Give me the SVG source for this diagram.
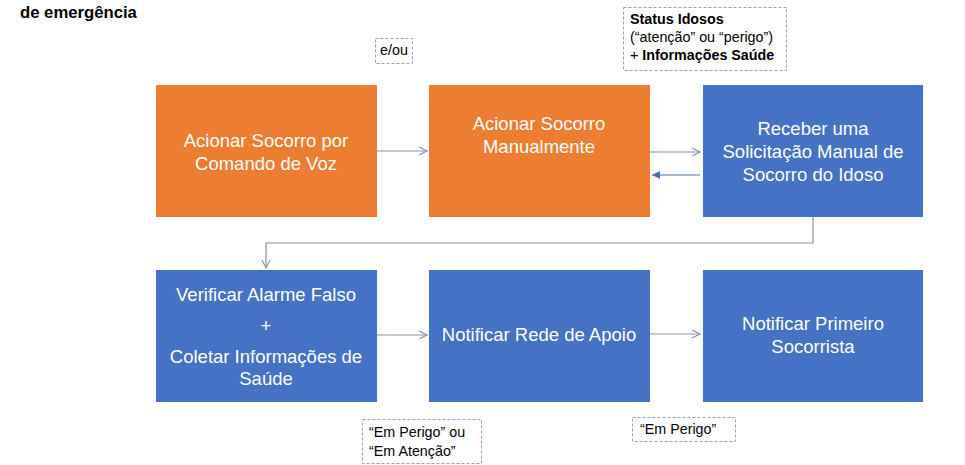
<svg xmlns="http://www.w3.org/2000/svg" width="965" height="465" viewBox="0 0 965 465">
<style>
.o{fill:#ED7D31}
.b{fill:#4472C4}
.t{font-family:"Liberation Sans",Arial,sans-serif;font-size:18.5px;fill:#fff;text-anchor:middle}
.c{fill:#fff;stroke:#8EA6BF;stroke-width:1;stroke-dasharray:3,2}
.ct{font-family:"Liberation Sans",Arial,sans-serif;font-size:14.3px;fill:#000}
.e{fill:none;stroke:#8497B0;stroke-width:1.2}
</style>
<defs>
<marker id="a" markerWidth="10" markerHeight="10" refX="9" refY="5" orient="auto" markerUnits="userSpaceOnUse">
<path d="M1,1 L9,5 L1,9" fill="none" stroke="#8497B0" stroke-width="1.2"/>
</marker>
<marker id="f" markerWidth="10" markerHeight="10" refX="9" refY="5" orient="auto" markerUnits="userSpaceOnUse">
<path d="M1,1 L9,5 L1,9 Z" fill="#4A6FB5"/>
</marker>
</defs>
<rect width="965" height="465" fill="#fff"/>
<text x="20" y="18" font-family="'Liberation Sans',Arial,sans-serif" font-size="16.7" font-weight="bold" fill="#000">de emergência</text>

<g id="n1"><rect class="o" x="156" y="85" width="221" height="132"/>
<text class="t" x="266" y="147">Acionar Socorro por</text><text class="t" x="266" y="170">Comando de Voz</text></g>
<g id="n2"><rect class="o" x="429" y="85" width="221" height="132"/>
<text class="t" x="539" y="130">Acionar Socorro</text><text class="t" x="539" y="153">Manualmente</text></g>
<g id="n3"><rect class="b" x="703" y="85" width="220" height="132"/>
<text class="t" x="813" y="135">Receber uma</text><text class="t" x="813" y="158">Solicitação Manual de</text><text class="t" x="813" y="181">Socorro do Idoso</text></g>
<g id="n4"><rect class="b" x="156" y="270" width="221" height="132"/>
<text class="t" x="266" y="301">Verificar Alarme Falso</text><text class="t" x="266" y="332">+</text><text class="t" x="266" y="363">Coletar Informações de</text><text class="t" x="266" y="385">Saúde</text></g>
<g id="n5"><rect class="b" x="429" y="270" width="221" height="132"/>
<text class="t" x="539" y="341">Notificar Rede de Apoio</text></g>
<g id="n6"><rect class="b" x="703" y="270" width="220" height="132"/>
<text class="t" x="813" y="330">Notificar Primeiro</text><text class="t" x="813" y="353">Socorrista</text></g>

<g id="callouts">
<g id="c1"><rect class="c" x="375.5" y="38.5" width="37" height="25"/><text class="ct" x="394" y="55" text-anchor="middle">e/ou</text></g>
<g id="c2"><rect class="c" x="623.5" y="7.5" width="163" height="63"/>
<text class="ct" x="630" y="24" font-weight="bold">Status Idosos</text>
<text class="ct" x="630" y="42">(“atenção” ou “perigo”)</text>
<text class="ct" x="630" y="60">+ <tspan font-weight="bold">Informações Saúde</tspan></text></g>
<g id="c3"><rect class="c" x="362.5" y="419.5" width="119" height="44"/>
<text class="ct" x="369" y="437">“Em Perigo” ou</text><text class="ct" x="369" y="456">“Em Atenção”</text></g>
<g id="c4"><rect class="c" x="632.5" y="417.5" width="103" height="24"/>
<text class="ct" x="640" y="434">“Em Perigo”</text></g>
</g>

<g id="edges">
<line class="e" x1="377" y1="151" x2="427" y2="151" marker-end="url(#a)"/>
<line class="e" x1="650" y1="152" x2="700" y2="152" marker-end="url(#a)"/>
<line x1="700" y1="175" x2="652" y2="175" stroke="#4A6FB5" stroke-width="1.2" marker-end="url(#f)"/>
<polyline class="e" points="813,217 813,243 266,243 266,268" marker-end="url(#a)"/>
<line class="e" x1="377" y1="335" x2="427" y2="335" marker-end="url(#a)"/>
<line class="e" x1="650" y1="334" x2="700" y2="334" marker-end="url(#a)"/>
</g>
</svg>
